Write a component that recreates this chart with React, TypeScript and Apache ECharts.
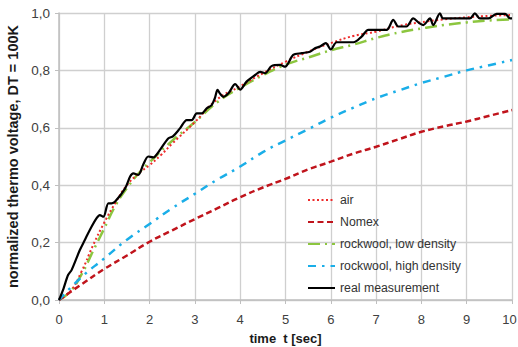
import React, { useEffect, useRef } from "react";
import * as echarts from "echarts";

const xTicks = [0, 1, 2, 3, 4, 5, 6, 7, 8, 9, 10];
const yTicks = [0, 0.2, 0.4, 0.6, 0.8, 1.0];

const airData = [
  [0, 0], [0.25, 0.03], [0.5, 0.1], [0.75, 0.19], [1, 0.27], [1.25, 0.34], [1.5, 0.4],
  [1.75, 0.44], [2, 0.47], [2.25, 0.505], [2.5, 0.545], [3, 0.62], [3.5, 0.7], [4, 0.745],
  [4.5, 0.79], [5, 0.83], [5.5, 0.865], [6, 0.895], [6.5, 0.92], [7, 0.935], [7.5, 0.955],
  [8, 0.968], [8.5, 0.978], [9, 0.985], [9.5, 0.99], [10, 0.993],
];

const nomexData = [
  [0, 0], [0.5, 0.055], [1, 0.108], [1.5, 0.155], [2, 0.203], [2.5, 0.243], [3, 0.282],
  [3.5, 0.32], [4, 0.358], [4.5, 0.392], [5, 0.422], [5.5, 0.455], [6, 0.482], [6.5, 0.51],
  [7, 0.534], [7.5, 0.56], [8, 0.586], [8.5, 0.605], [9, 0.622], [9.5, 0.642], [10, 0.662],
];

const lowDensityData = [
  [0, 0], [0.25, 0.03], [0.5, 0.09], [0.75, 0.17], [1, 0.25], [1.25, 0.33], [1.5, 0.39],
  [1.75, 0.44], [2, 0.48], [2.5, 0.555], [3, 0.62], [3.5, 0.69], [4, 0.74], [4.5, 0.783],
  [5, 0.82], [5.5, 0.845], [6, 0.87], [6.5, 0.89], [7, 0.913], [7.5, 0.932], [8, 0.946],
  [8.5, 0.958], [9, 0.967], [9.5, 0.974], [10, 0.978],
];

const highDensityData = [
  [0, 0], [0.5, 0.08], [1, 0.145], [1.5, 0.21], [2, 0.265], [2.5, 0.32], [3, 0.37],
  [3.5, 0.42], [4, 0.465], [4.5, 0.515], [5, 0.556], [5.5, 0.595], [6, 0.635], [6.5, 0.67],
  [7, 0.703], [7.5, 0.73], [8, 0.756], [8.5, 0.778], [9, 0.8], [9.5, 0.818], [10, 0.836],
];

const measuredData = [
  [0, 0], [0.1, 0.04], [0.2, 0.087], [0.28, 0.105], [0.46, 0.174], [0.57, 0.209], [0.68, 0.244],
  [0.83, 0.285], [0.9, 0.296], [0.98, 0.29], [1.09, 0.337], [1.16, 0.337], [1.24, 0.343],
  [1.46, 0.389], [1.57, 0.43], [1.64, 0.441], [1.75, 0.436], [1.86, 0.472], [1.97, 0.5],
  [2.08, 0.497], [2.12, 0.5], [2.23, 0.523], [2.41, 0.563], [2.52, 0.571], [2.67, 0.598],
  [2.82, 0.627], [2.93, 0.627], [3.04, 0.65], [3.15, 0.65], [3.26, 0.668], [3.37, 0.679],
  [3.44, 0.703], [3.5, 0.732], [3.55, 0.72], [3.63, 0.708], [3.74, 0.72], [3.89, 0.752],
  [4.0, 0.733], [4.14, 0.761], [4.33, 0.784], [4.44, 0.795], [4.55, 0.79], [4.69, 0.815],
  [4.88, 0.819], [4.99, 0.813], [5.17, 0.854], [5.36, 0.86], [5.54, 0.865], [5.65, 0.877],
  [5.76, 0.883], [5.89, 0.895], [6.0, 0.873], [6.13, 0.898], [6.5, 0.898], [6.68, 0.918],
  [6.83, 0.941], [7.23, 0.941], [7.38, 0.976], [7.49, 0.953], [7.67, 0.953], [7.82, 0.981],
  [7.95, 0.965], [8.04, 0.958], [8.19, 0.981], [8.26, 0.958], [8.41, 0.999], [8.48, 0.981],
  [9.07, 0.981], [9.18, 0.999], [9.29, 0.981], [9.48, 0.981], [9.66, 0.997], [9.85, 0.997],
  [9.96, 0.981], [10, 0.981],
];

const seriesNames = [
  "air",
  "Nomex",
  "rockwool, low density",
  "rockwool, high density",
  "real measurement",
];

const sans = "'Liberation Sans', Arial, sans-serif";

export default function App() {
  const ref = useRef<HTMLDivElement>(null);
  useEffect(() => {
    if (!ref.current) return;
    const chart = echarts.init(ref.current, undefined, { renderer: "svg" });
    const gridColor = "#cfcfcf";
    const xMax = xTicks[xTicks.length - 1];
    chart.setOption({
      animation: false,
      backgroundColor: "#ffffff",
      grid: { left: 59, right: 6, top: 13, bottom: 47, outerBoundsMode: "none" },
      xAxis: {
        type: "value",
        min: xTicks[0],
        max: xMax,
        interval: 1,
        name: "time  t [sec]",
        nameLocation: "middle",
        nameGap: 32,
        nameTextStyle: { fontFamily: sans, fontWeight: "bold", fontSize: 13, color: "#1a1a1a" },
        axisLine: { show: true, lineStyle: { color: "#bfbfbf", width: 1.5 } },
        axisTick: { show: true, length: 4, lineStyle: { color: "#bfbfbf" } },
        splitLine: { show: true, lineStyle: { color: gridColor, width: 1.3 } },
        axisLabel: {
          fontFamily: sans,
          fontSize: 13,
          color: "#404040",
          margin: 13,
          formatter: (v: number) => (v === xMax ? "{e|" + v + "}" : String(v)),
          rich: {
            e: { fontFamily: sans, fontSize: 13, color: "#404040", padding: [0, 5, 0, 0] },
          },
        },
      },
      yAxis: {
        type: "value",
        min: yTicks[0],
        max: yTicks[yTicks.length - 1],
        interval: 0.2,
        name: "normalized thermo voltage, DT = 100K",
        nameLocation: "middle",
        nameGap: 33,
        nameTextStyle: { fontFamily: sans, fontWeight: "bold", fontSize: 14.5, color: "#1a1a1a" },
        axisLine: { show: true, lineStyle: { color: "#bfbfbf", width: 1.5 } },
        axisTick: { show: true, length: 4, lineStyle: { color: "#bfbfbf" } },
        splitLine: { show: true, lineStyle: { color: gridColor, width: 1.3 } },
        axisLabel: {
          fontFamily: sans,
          fontSize: 13.5,
          color: "#404040",
          margin: 9,
          formatter: (v: number) => v.toFixed(1).replace(".", ","),
        },
      },
      legend: {
        orient: "vertical",
        left: 302,
        top: 189,
        itemWidth: 27,
        itemHeight: 14,
        itemGap: 10,
        itemStyle: { opacity: 0 },
        backgroundColor: "transparent",
        textStyle: { fontFamily: sans, fontSize: 12.3, color: "#333333" },
        data: seriesNames,
      },
      series: [
        {
          name: seriesNames[0],
          type: "line",
          data: airData,
          smooth: true,
          symbol: "none",
          z: 3,
          lineStyle: { color: "#ee2b2b", width: 2, type: [2, 2.5] },
          itemStyle: { color: "#ee2b2b" },
        },
        {
          name: seriesNames[1],
          type: "line",
          data: nomexData,
          smooth: true,
          symbol: "none",
          lineStyle: { color: "#c0141c", width: 2.5, type: [6, 3.5] },
          itemStyle: { color: "#c0141c" },
        },
        {
          name: seriesNames[2],
          type: "line",
          data: lowDensityData,
          smooth: true,
          symbol: "none",
          z: 2,
          lineStyle: { color: "#8cc63f", width: 2.5, type: [12, 5, 2, 5] },
          itemStyle: { color: "#8cc63f" },
        },
        {
          name: seriesNames[3],
          type: "line",
          data: highDensityData,
          smooth: true,
          symbol: "none",
          lineStyle: { color: "#1aaee8", width: 2.5, type: [8, 6, 2.5, 6] },
          itemStyle: { color: "#1aaee8" },
        },
        {
          name: seriesNames[4],
          type: "line",
          data: measuredData,
          smooth: 0.3,
          symbol: "none",
          z: 4,
          lineStyle: { color: "#000000", width: 2.2 },
          itemStyle: { color: "#000000" },
        },
      ],
    });
    return () => chart.dispose();
  }, []);
  return (
    <div
      ref={ref}
      style={{ position: "fixed", left: 0, top: 0, width: 518, height: 347, background: "#fff" }}
    />
  );
}
